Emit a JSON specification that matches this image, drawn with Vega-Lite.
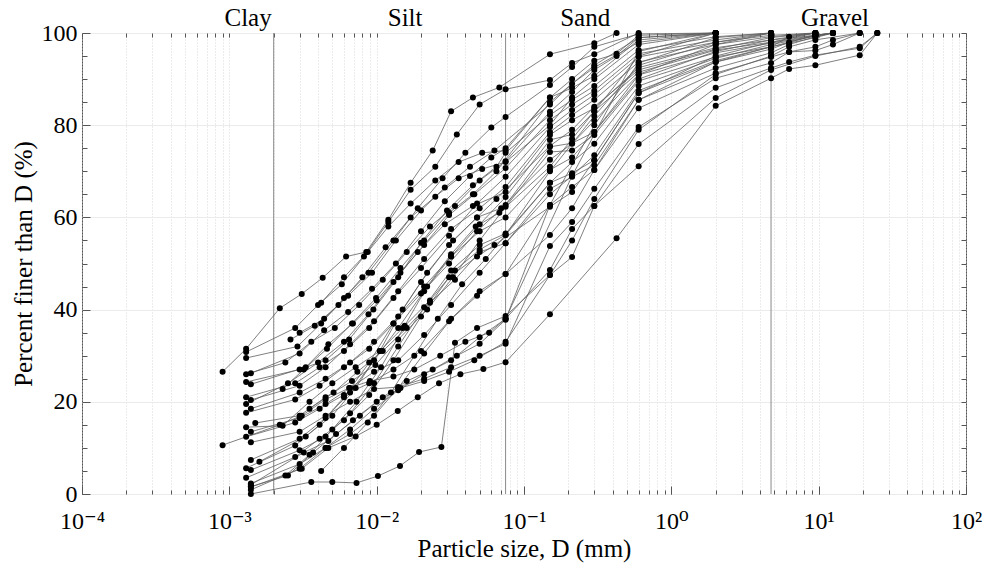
{
  "$schema": "https://vega.github.io/schema/vega-lite/v6.json",
  "width": 884,
  "height": 461,
  "autosize": "none",
  "padding": {"left": 82, "top": 33, "right": 20, "bottom": 76},
  "background": "white",
  "config": {
    "view": {"stroke": "#555", "strokeWidth": 1},
    "axis": {
      "labelFont": "Liberation Serif, Times New Roman, DejaVu Serif, serif", "labelFontSize": 24, "labelColor": "#000",
      "titleFont": "Liberation Serif, Times New Roman, DejaVu Serif, serif", "titleFontSize": 25, "titleFontWeight": "normal", "titleColor": "#000",
      "tickColor": "#555", "domain": false
    }
  },
  "datasets": {
    "curves": [
      {"c":1,"d":0.0009,"p":26.5},{"c":1,"d":0.0013,"p":31.5},{"c":1,"d":0.0022,"p":40.3},{"c":1,"d":0.0031,"p":43.4},{"c":1,"d":0.0043,"p":46.9},{"c":1,"d":0.0062,"p":51.5},{"c":1,"d":0.0085,"p":52.5},{"c":1,"d":0.012,"p":59.5},{"c":1,"d":0.017,"p":67.5},{"c":1,"d":0.024,"p":74.5},{"c":1,"d":0.032,"p":83},{"c":1,"d":0.045,"p":86},{"c":1,"d":0.068,"p":88.2},{"c":1,"d":0.15,"p":95.4},{"c":1,"d":0.3,"p":97.8},{"c":1,"d":0.425,"p":100},
      {"c":2,"d":0.0013,"p":30.8},{"c":2,"d":0.0028,"p":36},{"c":2,"d":0.004,"p":41},{"c":2,"d":0.0058,"p":45.5},{"c":2,"d":0.0082,"p":51.5},{"c":2,"d":0.012,"p":59},{"c":2,"d":0.017,"p":66},{"c":2,"d":0.025,"p":71},{"c":2,"d":0.035,"p":78},{"c":2,"d":0.05,"p":84.5},{"c":2,"d":0.075,"p":87.8},{"c":2,"d":0.15,"p":89.8},{"c":2,"d":0.212,"p":93.5},{"c":2,"d":0.3,"p":95.4},{"c":2,"d":0.6,"p":100},
      {"c":3,"d":0.0013,"p":29.5},{"c":3,"d":0.0029,"p":32},{"c":3,"d":0.0042,"p":37},{"c":3,"d":0.006,"p":42.5},{"c":3,"d":0.0088,"p":48},{"c":3,"d":0.013,"p":55},{"c":3,"d":0.019,"p":62},{"c":3,"d":0.028,"p":68.5},{"c":3,"d":0.04,"p":74},{"c":3,"d":0.06,"p":79.5},{"c":3,"d":0.075,"p":81.8},{"c":3,"d":0.15,"p":88.7},{"c":3,"d":0.212,"p":92.6},{"c":3,"d":0.3,"p":97},{"c":3,"d":0.6,"p":99.8},{"c":3,"d":2,"p":100},
      {"c":4,"d":0.0014,"p":26.2},{"c":4,"d":0.003,"p":30.5},{"c":4,"d":0.0044,"p":35.5},{"c":4,"d":0.0064,"p":39.5},{"c":4,"d":0.0093,"p":44.5},{"c":4,"d":0.0135,"p":50},{"c":4,"d":0.02,"p":57},{"c":4,"d":0.029,"p":63.5},{"c":4,"d":0.043,"p":69},{"c":4,"d":0.06,"p":73},{"c":4,"d":0.075,"p":75},{"c":4,"d":0.15,"p":86},{"c":4,"d":0.212,"p":88.1},{"c":4,"d":0.3,"p":90.7},{"c":4,"d":0.6,"p":98.5},{"c":4,"d":2,"p":100},
      {"c":5,"d":0.0013,"p":26},{"c":5,"d":0.0024,"p":28.5},{"c":5,"d":0.0036,"p":33},{"c":5,"d":0.0052,"p":36},{"c":5,"d":0.0076,"p":41},{"c":5,"d":0.011,"p":46.5},{"c":5,"d":0.016,"p":52.5},{"c":5,"d":0.023,"p":58},{"c":5,"d":0.034,"p":62.5},{"c":5,"d":0.05,"p":68},{"c":5,"d":0.075,"p":72.2},{"c":5,"d":0.15,"p":82.9},{"c":5,"d":0.212,"p":87.2},{"c":5,"d":0.3,"p":92},{"c":5,"d":0.425,"p":95},{"c":5,"d":0.6,"p":99},{"c":5,"d":2,"p":100},
      {"c":6,"d":0.0013,"p":24.3},{"c":6,"d":0.003,"p":27},{"c":6,"d":0.0045,"p":29},{"c":6,"d":0.0065,"p":33.5},{"c":6,"d":0.0095,"p":40},{"c":6,"d":0.014,"p":47},{"c":6,"d":0.02,"p":54.5},{"c":6,"d":0.03,"p":61.5},{"c":6,"d":0.045,"p":67},{"c":6,"d":0.065,"p":71},{"c":6,"d":0.075,"p":74},{"c":6,"d":0.15,"p":82.2},{"c":6,"d":0.212,"p":85.5},{"c":6,"d":0.3,"p":88.5},{"c":6,"d":0.6,"p":96.3},{"c":6,"d":2,"p":99.2},{"c":6,"d":4.75,"p":100},
      {"c":7,"d":0.0014,"p":23.8},{"c":7,"d":0.0033,"p":27.5},{"c":7,"d":0.0047,"p":32.5},{"c":7,"d":0.0069,"p":37},{"c":7,"d":0.01,"p":42},{"c":7,"d":0.0145,"p":48},{"c":7,"d":0.021,"p":54},{"c":7,"d":0.031,"p":60.5},{"c":7,"d":0.046,"p":65},{"c":7,"d":0.075,"p":70.7},{"c":7,"d":0.15,"p":81.1},{"c":7,"d":0.212,"p":84.5},{"c":7,"d":0.3,"p":87.5},{"c":7,"d":0.6,"p":95.5},{"c":7,"d":2,"p":98.5},{"c":7,"d":4.75,"p":100},
      {"c":8,"d":0.0013,"p":21},{"c":8,"d":0.0028,"p":24},{"c":8,"d":0.0041,"p":27.5},{"c":8,"d":0.006,"p":31},{"c":8,"d":0.0089,"p":36},{"c":8,"d":0.013,"p":42.5},{"c":8,"d":0.02,"p":49},{"c":8,"d":0.031,"p":56},{"c":8,"d":0.048,"p":63},{"c":8,"d":0.075,"p":68.8},{"c":8,"d":0.15,"p":79.6},{"c":8,"d":0.212,"p":83.3},{"c":8,"d":0.3,"p":86.6},{"c":8,"d":0.6,"p":94.8},{"c":8,"d":2,"p":98},{"c":8,"d":4.75,"p":99.5},{"c":8,"d":9.5,"p":100},
      {"c":9,"d":0.0014,"p":20.4},{"c":9,"d":0.003,"p":23.5},{"c":9,"d":0.0045,"p":27.5},{"c":9,"d":0.0066,"p":32.5},{"c":9,"d":0.0096,"p":37.5},{"c":9,"d":0.014,"p":44},{"c":9,"d":0.021,"p":51},{"c":9,"d":0.032,"p":57.5},{"c":9,"d":0.05,"p":62},{"c":9,"d":0.075,"p":66.6},{"c":9,"d":0.15,"p":78.5},{"c":9,"d":0.212,"p":82.2},{"c":9,"d":0.3,"p":85.5},{"c":9,"d":0.6,"p":93.7},{"c":9,"d":2,"p":97.5},{"c":9,"d":4.75,"p":99.2},{"c":9,"d":9.5,"p":100},
      {"c":10,"d":0.0013,"p":19.5},{"c":10,"d":0.0025,"p":24},{"c":10,"d":0.004,"p":28.5},{"c":10,"d":0.006,"p":33},{"c":10,"d":0.0088,"p":39},{"c":10,"d":0.013,"p":46},{"c":10,"d":0.019,"p":52.5},{"c":10,"d":0.029,"p":58.5},{"c":10,"d":0.045,"p":62.5},{"c":10,"d":0.075,"p":65.5},{"c":10,"d":0.15,"p":77.9},{"c":10,"d":0.212,"p":81.1},{"c":10,"d":0.3,"p":83.7},{"c":10,"d":0.6,"p":92.5},{"c":10,"d":2,"p":96.8},{"c":10,"d":4.75,"p":98.5},{"c":10,"d":9.5,"p":99.5},{"c":10,"d":12.5,"p":100},
      {"c":11,"d":0.0014,"p":18.5},{"c":11,"d":0.003,"p":22},{"c":11,"d":0.0045,"p":25},{"c":11,"d":0.0066,"p":28.5},{"c":11,"d":0.0096,"p":33},{"c":11,"d":0.014,"p":38.5},{"c":11,"d":0.021,"p":45},{"c":11,"d":0.032,"p":51.5},{"c":11,"d":0.05,"p":58.5},{"c":11,"d":0.075,"p":64.4},{"c":11,"d":0.15,"p":76.8},{"c":11,"d":0.212,"p":78},{"c":11,"d":0.3,"p":83},{"c":11,"d":0.6,"p":91.5},{"c":11,"d":2,"p":96.3},{"c":11,"d":4.75,"p":98},{"c":11,"d":9.5,"p":99.5},{"c":11,"d":12.5,"p":100},
      {"c":12,"d":0.0013,"p":17.6},{"c":12,"d":0.0028,"p":20.5},{"c":12,"d":0.0041,"p":23.5},{"c":12,"d":0.006,"p":27.5},{"c":12,"d":0.0089,"p":31.5},{"c":12,"d":0.013,"p":37},{"c":12,"d":0.02,"p":43.5},{"c":12,"d":0.031,"p":50},{"c":12,"d":0.048,"p":57},{"c":12,"d":0.075,"p":62.7},{"c":12,"d":0.15,"p":75.3},{"c":12,"d":0.212,"p":76.1},{"c":12,"d":0.3,"p":78.5},{"c":12,"d":0.6,"p":90.9},{"c":12,"d":2,"p":95.7},{"c":12,"d":4.75,"p":97.8},{"c":12,"d":12.5,"p":100},
      {"c":13,"d":0.0015,"p":15.4},{"c":13,"d":0.003,"p":17},{"c":13,"d":0.0045,"p":21},{"c":13,"d":0.0068,"p":24.5},{"c":13,"d":0.0098,"p":28},{"c":13,"d":0.014,"p":33.5},{"c":13,"d":0.022,"p":40},{"c":13,"d":0.033,"p":47},{"c":13,"d":0.05,"p":55},{"c":13,"d":0.075,"p":62.3},{"c":13,"d":0.15,"p":74.2},{"c":13,"d":0.212,"p":74.5},{"c":13,"d":0.3,"p":77.9},{"c":13,"d":0.6,"p":89.6},{"c":13,"d":2,"p":94.8},{"c":13,"d":4.75,"p":97},{"c":13,"d":6.3,"p":99.2},{"c":13,"d":9.5,"p":100},
      {"c":14,"d":0.0013,"p":14.5},{"c":14,"d":0.0023,"p":14.8},{"c":14,"d":0.0035,"p":20},{"c":14,"d":0.005,"p":24},{"c":14,"d":0.0072,"p":27.5},{"c":14,"d":0.0105,"p":31},{"c":14,"d":0.015,"p":36},{"c":14,"d":0.023,"p":42},{"c":14,"d":0.034,"p":48.5},{"c":14,"d":0.05,"p":53},{"c":14,"d":0.075,"p":56.2},{"c":14,"d":0.15,"p":67.5},{"c":14,"d":0.212,"p":69.6},{"c":14,"d":0.3,"p":72.4},{"c":14,"d":0.6,"p":87},{"c":14,"d":2,"p":93.7},{"c":14,"d":4.75,"p":96.5},{"c":14,"d":6.3,"p":98},{"c":14,"d":9.5,"p":99.5},{"c":14,"d":12.5,"p":100},
      {"c":15,"d":0.0014,"p":13.5},{"c":15,"d":0.003,"p":16.5},{"c":15,"d":0.0045,"p":19.5},{"c":15,"d":0.0066,"p":23},{"c":15,"d":0.0096,"p":26.5},{"c":15,"d":0.014,"p":29},{"c":15,"d":0.021,"p":34.5},{"c":15,"d":0.032,"p":41},{"c":15,"d":0.05,"p":48},{"c":15,"d":0.075,"p":54.4},{"c":15,"d":0.15,"p":66.2},{"c":15,"d":0.212,"p":68.8},{"c":15,"d":0.3,"p":71.3},{"c":15,"d":0.6,"p":85.5},{"c":15,"d":2,"p":92.4},{"c":15,"d":4.75,"p":95.7},{"c":15,"d":6.3,"p":97.5},{"c":15,"d":9.5,"p":99.2},{"c":15,"d":12.5,"p":100},
      {"c":16,"d":0.0013,"p":12.4},{"c":16,"d":0.0028,"p":15.5},{"c":16,"d":0.0041,"p":18.5},{"c":16,"d":0.006,"p":21.5},{"c":16,"d":0.0089,"p":24},{"c":16,"d":0.013,"p":27},{"c":16,"d":0.02,"p":31},{"c":16,"d":0.031,"p":37.5},{"c":16,"d":0.048,"p":43},{"c":16,"d":0.075,"p":47.7},{"c":16,"d":0.15,"p":62.7},{"c":16,"d":0.212,"p":66.6},{"c":16,"d":0.3,"p":70.3},{"c":16,"d":0.6,"p":83.7},{"c":16,"d":2,"p":91.3},{"c":16,"d":4.75,"p":94.8},{"c":16,"d":6.3,"p":95.9},{"c":16,"d":9.5,"p":97},{"c":16,"d":12.5,"p":98.5},{"c":16,"d":19,"p":100},
      {"c":17,"d":0.0014,"p":11.2},{"c":17,"d":0.003,"p":13.5},{"c":17,"d":0.0045,"p":17},{"c":17,"d":0.0066,"p":20},{"c":17,"d":0.0096,"p":22.8},{"c":17,"d":0.014,"p":23.2},{"c":17,"d":0.021,"p":25},{"c":17,"d":0.032,"p":27.5},{"c":17,"d":0.05,"p":30},{"c":17,"d":0.075,"p":32.6},{"c":17,"d":0.15,"p":53.8},{"c":17,"d":0.212,"p":59},{"c":17,"d":0.3,"p":66.2},{"c":17,"d":0.6,"p":79.6},{"c":17,"d":2,"p":90.2},{"c":17,"d":4.75,"p":93.5},{"c":17,"d":6.3,"p":95.9},{"c":17,"d":9.5,"p":96.2},{"c":17,"d":12.5,"p":97.5},{"c":17,"d":19,"p":100},
      {"c":18,"d":0.0009,"p":10.6},{"c":18,"d":0.0022,"p":15},{"c":18,"d":0.0031,"p":17},{"c":18,"d":0.0045,"p":20.5},{"c":18,"d":0.0065,"p":23},{"c":18,"d":0.009,"p":24.5},{"c":18,"d":0.013,"p":25.5},{"c":18,"d":0.018,"p":27},{"c":18,"d":0.027,"p":30},{"c":18,"d":0.04,"p":33},{"c":18,"d":0.058,"p":35},{"c":18,"d":0.075,"p":38},{"c":18,"d":0.15,"p":48.6},{"c":18,"d":0.212,"p":57.5},{"c":18,"d":0.3,"p":62.5},{"c":18,"d":0.6,"p":75.9},{"c":18,"d":2,"p":88.1},{"c":18,"d":4.75,"p":92.4},{"c":18,"d":6.3,"p":93.7},{"c":18,"d":9.5,"p":95.2},{"c":18,"d":19,"p":96.7},{"c":18,"d":25,"p":100},
      {"c":19,"d":0.0014,"p":1.5},{"c":19,"d":0.0031,"p":5.5},{"c":19,"d":0.0047,"p":10},{"c":19,"d":0.0072,"p":12.5},{"c":19,"d":0.01,"p":15},{"c":19,"d":0.0139,"p":18},{"c":19,"d":0.019,"p":21},{"c":19,"d":0.0265,"p":24},{"c":19,"d":0.037,"p":26},{"c":19,"d":0.053,"p":27.1},{"c":19,"d":0.075,"p":28.6},{"c":19,"d":0.15,"p":39},{"c":19,"d":0.425,"p":55.5},{"c":19,"d":2,"p":84.2},{"c":19,"d":4.75,"p":90.2},{"c":19,"d":6.3,"p":92.2},{"c":19,"d":9.5,"p":93},{"c":19,"d":19,"p":95.2},{"c":19,"d":25,"p":100},
      {"c":20,"d":0.0014,"p":0},{"c":20,"d":0.0036,"p":2.6},{"c":20,"d":0.005,"p":2.6},{"c":20,"d":0.0073,"p":2.4},{"c":20,"d":0.0102,"p":3.9},{"c":20,"d":0.0144,"p":6.1},{"c":20,"d":0.0194,"p":9.1},{"c":20,"d":0.0275,"p":10.2},{"c":20,"d":0.034,"p":32.8},{"c":20,"d":0.048,"p":36},{"c":20,"d":0.075,"p":38.6},{"c":20,"d":0.15,"p":47.5},{"c":20,"d":0.212,"p":51.4},{"c":20,"d":0.3,"p":62.5},{"c":20,"d":0.6,"p":71.1},{"c":20,"d":2,"p":85.9},{"c":20,"d":4.75,"p":92},{"c":20,"d":9.5,"p":95},{"c":20,"d":19,"p":97},{"c":20,"d":25,"p":100},
      {"c":21,"d":0.0014,"p":7.4},{"c":21,"d":0.003,"p":12},{"c":21,"d":0.0045,"p":16.5},{"c":21,"d":0.0066,"p":22},{"c":21,"d":0.0096,"p":29},{"c":21,"d":0.014,"p":36},{"c":21,"d":0.021,"p":44},{"c":21,"d":0.032,"p":51.5},{"c":21,"d":0.05,"p":57},{"c":21,"d":0.075,"p":60},{"c":21,"d":0.15,"p":70.3},{"c":21,"d":0.212,"p":73},{"c":21,"d":0.3,"p":78.5},{"c":21,"d":0.6,"p":90},{"c":21,"d":2,"p":96},{"c":21,"d":4.75,"p":98.5},{"c":21,"d":9.5,"p":100},
      {"c":22,"d":0.0013,"p":5.6},{"c":22,"d":0.0028,"p":10.5},{"c":22,"d":0.0041,"p":15},{"c":22,"d":0.006,"p":21},{"c":22,"d":0.0089,"p":28.5},{"c":22,"d":0.013,"p":37},{"c":22,"d":0.02,"p":46},{"c":22,"d":0.031,"p":54},{"c":22,"d":0.048,"p":60},{"c":22,"d":0.065,"p":64},{"c":22,"d":0.15,"p":75.5},{"c":22,"d":0.212,"p":79},{"c":22,"d":0.3,"p":84},{"c":22,"d":0.6,"p":92},{"c":22,"d":2,"p":96.5},{"c":22,"d":4.75,"p":99},{"c":22,"d":9.5,"p":100},
      {"c":23,"d":0.0014,"p":5.2},{"c":23,"d":0.003,"p":9.5},{"c":23,"d":0.0045,"p":12.5},{"c":23,"d":0.0066,"p":17.5},{"c":23,"d":0.0096,"p":24},{"c":23,"d":0.014,"p":32},{"c":23,"d":0.021,"p":40.5},{"c":23,"d":0.032,"p":48.5},{"c":23,"d":0.05,"p":54},{"c":23,"d":0.075,"p":56.5},{"c":23,"d":0.15,"p":67.5},{"c":23,"d":0.212,"p":72},{"c":23,"d":0.3,"p":76},{"c":23,"d":0.6,"p":88.5},{"c":23,"d":2,"p":94.5},{"c":23,"d":4.75,"p":97.5},{"c":23,"d":12.5,"p":100},
      {"c":24,"d":0.0013,"p":3.5},{"c":24,"d":0.0028,"p":8},{"c":24,"d":0.0041,"p":12},{"c":24,"d":0.006,"p":16},{"c":24,"d":0.0089,"p":21.5},{"c":24,"d":0.013,"p":29},{"c":24,"d":0.02,"p":38.5},{"c":24,"d":0.031,"p":47},{"c":24,"d":0.048,"p":51.5},{"c":24,"d":0.063,"p":54},{"c":24,"d":0.15,"p":62.3},{"c":24,"d":0.212,"p":65.5},{"c":24,"d":0.3,"p":72.4},{"c":24,"d":0.6,"p":87},{"c":24,"d":2,"p":95},{"c":24,"d":4.75,"p":98},{"c":24,"d":9.5,"p":100},
      {"c":25,"d":0.0014,"p":2.3},{"c":25,"d":0.003,"p":6.5},{"c":25,"d":0.0045,"p":10},{"c":25,"d":0.0066,"p":13},{"c":25,"d":0.0096,"p":17},{"c":25,"d":0.014,"p":23},{"c":25,"d":0.021,"p":30.5},{"c":25,"d":0.032,"p":38},{"c":25,"d":0.05,"p":44},{"c":25,"d":0.075,"p":47.7},{"c":25,"d":0.15,"p":56.2},{"c":25,"d":0.212,"p":62},{"c":25,"d":0.3,"p":70.3},{"c":25,"d":0.6,"p":85.5},{"c":25,"d":2,"p":93.7},{"c":25,"d":4.75,"p":97},{"c":25,"d":9.5,"p":99.5},{"c":25,"d":12.5,"p":100},
      {"c":26,"d":0.0014,"p":2},{"c":26,"d":0.0032,"p":9},{"c":26,"d":0.0047,"p":11.5},{"c":26,"d":0.0069,"p":16},{"c":26,"d":0.01,"p":20},{"c":26,"d":0.0145,"p":23},{"c":26,"d":0.021,"p":24.5},{"c":26,"d":0.031,"p":26.5},{"c":26,"d":0.046,"p":29},{"c":26,"d":0.075,"p":33},{"c":26,"d":0.15,"p":47.5},{"c":26,"d":0.212,"p":55},{"c":26,"d":0.3,"p":64},{"c":26,"d":0.6,"p":79},{"c":26,"d":2,"p":91},{"c":26,"d":4.75,"p":95},{"c":26,"d":6.3,"p":97},{"c":26,"d":9.5,"p":98.5},{"c":26,"d":19,"p":100},
      {"c":27,"d":0.0014,"p":1.6},{"c":27,"d":0.0025,"p":4},{"c":27,"d":0.0037,"p":9},{"c":27,"d":0.0053,"p":13},{"c":27,"d":0.0077,"p":17},{"c":27,"d":0.011,"p":21},{"c":27,"d":0.016,"p":24.5},{"c":27,"d":0.024,"p":27},{"c":27,"d":0.035,"p":30},{"c":27,"d":0.05,"p":32.6},{"c":27,"d":0.075,"p":37.8},{"c":27,"d":0.15,"p":62.7},{"c":27,"d":0.3,"p":80},{"c":27,"d":0.6,"p":93.5},{"c":27,"d":2,"p":99},{"c":27,"d":4.75,"p":100},
      {"c":28,"d":0.0014,"p":0.9},{"c":28,"d":0.003,"p":5.5},{"c":28,"d":0.0045,"p":10},{"c":28,"d":0.0066,"p":14},{"c":28,"d":0.0096,"p":18.5},{"c":28,"d":0.014,"p":22.5},{"c":28,"d":0.021,"p":26},{"c":28,"d":0.032,"p":29},{"c":28,"d":0.05,"p":34},{"c":28,"d":0.075,"p":38},{"c":28,"d":0.212,"p":69},{"c":28,"d":0.6,"p":96},{"c":28,"d":2,"p":100},
      {"c":29,"d":0.0023,"p":22.8},{"c":29,"d":0.0032,"p":27},{"c":29,"d":0.0046,"p":31.5},{"c":29,"d":0.0068,"p":37},{"c":29,"d":0.0099,"p":42.5},{"c":29,"d":0.0145,"p":49},{"c":29,"d":0.021,"p":55},{"c":29,"d":0.031,"p":61},{"c":29,"d":0.045,"p":65},{"c":29,"d":0.065,"p":70},{"c":29,"d":0.15,"p":85},{"c":29,"d":0.3,"p":93},{"c":29,"d":0.6,"p":99},{"c":29,"d":2,"p":100},
      {"c":30,"d":0.003,"p":35},{"c":30,"d":0.0044,"p":38},{"c":30,"d":0.0064,"p":43},{"c":30,"d":0.0093,"p":48},{"c":30,"d":0.0135,"p":55},{"c":30,"d":0.02,"p":61.5},{"c":30,"d":0.029,"p":66.5},{"c":30,"d":0.043,"p":71},{"c":30,"d":0.063,"p":74.5},{"c":30,"d":0.15,"p":84.5},{"c":30,"d":0.212,"p":89},{"c":30,"d":0.3,"p":92.5},{"c":30,"d":0.6,"p":98},{"c":30,"d":2,"p":100},
      {"c":31,"d":0.0042,"p":41.5},{"c":31,"d":0.006,"p":47},{"c":31,"d":0.0087,"p":52.5},{"c":31,"d":0.012,"p":58},{"c":31,"d":0.017,"p":63},{"c":31,"d":0.025,"p":68},{"c":31,"d":0.036,"p":72},{"c":31,"d":0.052,"p":74},{"c":31,"d":0.075,"p":74.5},{"c":31,"d":0.15,"p":86},{"c":31,"d":0.212,"p":90},{"c":31,"d":0.3,"p":94},{"c":31,"d":0.425,"p":95.5},{"c":31,"d":0.6,"p":99.5},{"c":31,"d":2,"p":100},
      {"c":32,"d":0.0026,"p":33.5},{"c":32,"d":0.0038,"p":36.5},{"c":32,"d":0.0055,"p":41},{"c":32,"d":0.008,"p":47},{"c":32,"d":0.0115,"p":53.5},{"c":32,"d":0.017,"p":60},{"c":32,"d":0.025,"p":64.5},{"c":32,"d":0.036,"p":68.5},{"c":32,"d":0.052,"p":70.5},{"c":32,"d":0.075,"p":72},{"c":32,"d":0.15,"p":80},{"c":32,"d":0.212,"p":86},{"c":32,"d":0.3,"p":90},{"c":32,"d":0.6,"p":97.5},{"c":32,"d":2,"p":100},
      {"c":33,"d":0.0035,"p":18.5},{"c":33,"d":0.0051,"p":22},{"c":33,"d":0.0074,"p":26.5},{"c":33,"d":0.011,"p":31},{"c":33,"d":0.016,"p":36},{"c":33,"d":0.023,"p":41.5},{"c":33,"d":0.034,"p":46.5},{"c":33,"d":0.05,"p":52.5},{"c":33,"d":0.075,"p":54.4},{"c":33,"d":0.15,"p":65},{"c":33,"d":0.212,"p":69},{"c":33,"d":0.3,"p":73.5},{"c":33,"d":0.6,"p":87.5},{"c":33,"d":2,"p":94},{"c":33,"d":4.75,"p":97},{"c":33,"d":9.5,"p":99},{"c":33,"d":12.5,"p":100},
      {"c":34,"d":0.0042,"p":5},{"c":34,"d":0.006,"p":10},{"c":34,"d":0.0087,"p":15.5},{"c":34,"d":0.0125,"p":22},{"c":34,"d":0.018,"p":30},{"c":34,"d":0.026,"p":38},{"c":34,"d":0.038,"p":45.5},{"c":34,"d":0.055,"p":51},{"c":34,"d":0.075,"p":56.2},{"c":34,"d":0.15,"p":70},{"c":34,"d":0.3,"p":82},{"c":34,"d":0.6,"p":93},{"c":34,"d":2,"p":98},{"c":34,"d":4.75,"p":100},
      {"c":35,"d":0.0016,"p":7},{"c":35,"d":0.0033,"p":12.5},{"c":35,"d":0.005,"p":17},{"c":35,"d":0.0072,"p":23},{"c":35,"d":0.0105,"p":31},{"c":35,"d":0.015,"p":40},{"c":35,"d":0.022,"p":48},{"c":35,"d":0.033,"p":55},{"c":35,"d":0.048,"p":60},{"c":35,"d":0.07,"p":62},{"c":35,"d":0.15,"p":72.5},{"c":35,"d":0.212,"p":76},{"c":35,"d":0.3,"p":81},{"c":35,"d":0.6,"p":91},{"c":35,"d":2,"p":97.5},{"c":35,"d":4.75,"p":100},
      {"c":36,"d":0.0024,"p":4},{"c":36,"d":0.0035,"p":8.5},{"c":36,"d":0.005,"p":14},{"c":36,"d":0.0073,"p":20},{"c":36,"d":0.0107,"p":27.5},{"c":36,"d":0.0155,"p":36.5},{"c":36,"d":0.022,"p":45},{"c":36,"d":0.032,"p":52},{"c":36,"d":0.047,"p":58},{"c":36,"d":0.068,"p":61},{"c":36,"d":0.15,"p":71},{"c":36,"d":0.212,"p":77},{"c":36,"d":0.3,"p":83},{"c":36,"d":0.6,"p":95},{"c":36,"d":2,"p":100}
    ],
    "bounds": [{"d": 0.002}, {"d": 0.075}, {"d": 4.75}],
    "classes": [{"t": "Clay", "d": 0.00134}, {"t": "Silt", "d": 0.0156}, {"t": "Sand", "d": 0.26}, {"t": "Gravel", "d": 12.9}]
  },
  "resolve": {"axis": {"x": "independent", "y": "independent"}},
  "layer": [
    {
      "data": {"name": "bounds"},
      "mark": {"type": "rule", "color": "#8a8a8a", "strokeWidth": 1},
      "encoding": {
        "x": {"field": "d", "type": "quantitative",
          "scale": {"type": "log", "domain": [0.0001, 100], "nice": false},
          "axis": {"orient": "bottom", "values": [0.0001, 0.001, 0.01, 0.1, 1, 10, 100],
            "labelExpr": "'10' + ['⁻⁴','⁻³','⁻²','⁻¹','⁰','¹','²'][round(log(datum.value)/LN10)+4]",
            "tickSize": -8, "labelPadding": 23, "grid": false, "title": "Particle size, D (mm)", "titlePadding": 3, "labelFlush": false}}
      }
    },
    {
      "data": {"name": "curves"},
      "mark": {"type": "line", "color": "#606060", "strokeWidth": 0.8},
      "encoding": {
        "x": {"field": "d", "type": "quantitative",
          "scale": {"type": "log", "domain": [0.0001, 100], "nice": false},
          "axis": {"orient": "bottom", "labels": false, "title": null, "tickSize": -4,
            "values": [0.0001,0.0002,0.0003,0.0004,0.0005,0.0006,0.0007,0.0008,0.0009,0.001,0.002,0.003,0.004,0.005,0.006,0.007,0.008,0.009,0.01,0.02,0.03,0.04,0.05,0.06,0.07,0.08,0.09,0.1,0.2,0.3,0.4,0.5,0.6,0.7,0.8,0.9,1,2,3,4,5,6,7,8,9,10,20,30,40,50,60,70,80,90,100],
            "grid": true, "gridColor": "#cfcfcf", "gridDash": [1, 2], "gridWidth": 0.8}},
        "y": {"field": "p", "type": "quantitative",
          "scale": {"domain": [0, 100], "nice": false},
          "axis": {"orient": "left", "values": [0, 20, 40, 60, 80, 100], "tickSize": -8, "labelPadding": 13,
            "grid": true, "gridColor": "#ebebeb", "title": "Percent finer than D (%)", "titlePadding": 5}},
        "detail": {"field": "c"}
      }
    },
    {
      "data": {"name": "curves"},
      "mark": {"type": "point", "filled": true, "color": "#000", "size": 36, "opacity": 1},
      "encoding": {
        "x": {"field": "d", "type": "quantitative",
          "scale": {"type": "log", "domain": [0.0001, 100], "nice": false},
          "axis": {"orient": "top", "labels": false, "title": null, "tickSize": -4, "grid": false,
            "values": [0.0001,0.0002,0.0003,0.0004,0.0005,0.0006,0.0007,0.0008,0.0009,0.001,0.002,0.003,0.004,0.005,0.006,0.007,0.008,0.009,0.01,0.02,0.03,0.04,0.05,0.06,0.07,0.08,0.09,0.1,0.2,0.3,0.4,0.5,0.6,0.7,0.8,0.9,1,2,3,4,5,6,7,8,9,10,20,30,40,50,60,70,80,90,100]}},
        "y": {"field": "p", "type": "quantitative",
          "scale": {"domain": [0, 100], "nice": false},
          "axis": {"orient": "right", "labels": false, "title": null, "tickSize": -5, "grid": false,
            "values": [0,5,10,15,20,25,30,35,40,45,50,55,60,65,70,75,80,85,90,95,100]}}
      }
    },
    {
      "data": {"name": "curves"},
      "mark": {"type": "tick", "opacity": 0},
      "encoding": {
        "y": {"field": "p", "type": "quantitative",
          "scale": {"domain": [0, 100], "nice": false},
          "axis": {"orient": "left", "labels": false, "title": null, "tickSize": -5, "grid": false,
            "values": [5,10,15,25,30,35,45,50,55,65,70,75,85,90,95]}}
      }
    },
    {
      "data": {"name": "classes"},
      "mark": {"type": "text", "fontSize": 25, "font": "Liberation Serif, Times New Roman, DejaVu Serif, serif", "color": "#000", "baseline": "middle", "align": "center"},
      "encoding": {
        "x": {"field": "d", "type": "quantitative", "scale": {"type": "log", "domain": [0.0001, 100], "nice": false}, "axis": null},
        "y": {"datum": 103.3, "type": "quantitative", "scale": {"domain": [0, 100], "nice": false}, "axis": null},
        "text": {"field": "t"}
      }
    }
  ]
}
